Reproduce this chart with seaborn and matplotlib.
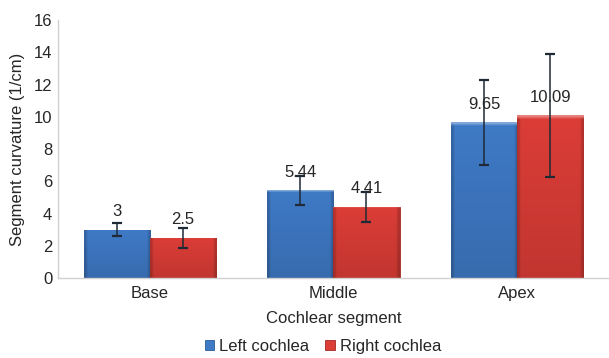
import matplotlib
matplotlib.use("Agg")
import matplotlib.pyplot as plt
import numpy as np
import pandas as pd
import seaborn as sns
from matplotlib.colors import to_rgb

SEGMENTS = ["Base", "Middle", "Apex"]
SIDES = ["Left cochlea", "Right cochlea"]
LEFT_MEAN = [3.0, 5.44, 9.65]
RIGHT_MEAN = [2.5, 4.41, 10.09]
LEFT_ERR = [0.40, 0.92, 2.66]
RIGHT_ERR = [0.62, 0.95, 3.80]
LABELS_LEFT = ["3", "5.44", "9.65"]
LABELS_RIGHT = ["2.5", "4.41", "10.09"]

COLORS = {"Left cochlea": "#3f7ac6", "Right cochlea": "#dc3d37"}
EDGES = {"Left cochlea": "#2c5a98", "Right cochlea": "#a42a25"}
FS = 12


def shaded_fill(color: str) -> np.ndarray:
    # bevelled look: lighter top rim, darker sides, slight fade downwards
    base = np.array(to_rgb(color))
    rows, cols = 60, 24
    img = np.empty((rows, cols, 3))
    for r in range(rows):
        fade = 1.0 - 0.12 * r / (rows - 1)
        for c in range(cols):
            f = fade
            if c in (0, cols - 1):
                f *= 0.82
            img[r, c] = np.clip(base * f, 0, 1)
    img[0] = np.clip(base + (1 - base) * 0.35, 0, 1)
    return img


def main() -> None:
    sns.set_style("white")
    plt.rcParams["font.family"] = ["Liberation Sans", "DejaVu Sans"]

    data = pd.DataFrame(
        {
            "segment": SEGMENTS * 2,
            "side": [SIDES[0]] * 3 + [SIDES[1]] * 3,
            "value": LEFT_MEAN + RIGHT_MEAN,
            "err": LEFT_ERR + RIGHT_ERR,
            "label": LABELS_LEFT + LABELS_RIGHT,
        }
    )

    fig = plt.figure(figsize=(6.09, 3.58), dpi=100)
    ax = fig.add_axes([0.095, 0.223, 0.905, 0.721])
    sns.barplot(
        data=data,
        x="segment",
        y="value",
        hue="side",
        hue_order=SIDES,
        order=SEGMENTS,
        palette=COLORS,
        saturation=1,
        width=0.72,
        errorbar=None,
        legend=False,
        ax=ax,
    )

    for side, container in zip(SIDES, ax.containers):
        sub = data[data["side"] == side].set_index("segment").loc[SEGMENTS]
        xs = [bar.get_x() + bar.get_width() / 2 for bar in container]
        fill = shaded_fill(COLORS[side])
        for bar in container:
            bar.set_edgecolor(EDGES[side])
            bar.set_linewidth(0.6)
            x0, w, h = bar.get_x(), bar.get_width(), bar.get_height()
            im = ax.imshow(
                fill,
                extent=(x0, x0 + w, 0, h),
                aspect="auto",
                interpolation="bilinear",
                zorder=bar.get_zorder() + 0.1,
            )
            im.set_clip_path(bar)
        ax.errorbar(
            xs,
            sub["value"],
            yerr=sub["err"],
            fmt="none",
            ecolor="#1f2a36",
            elinewidth=1.1,
            capsize=3.5,
            capthick=1.6,
            zorder=5,
        )
        for x, v, lab in zip(xs, sub["value"], sub["label"]):
            ax.annotate(
                lab,
                (x, v),
                xytext=(0, 13),
                textcoords="offset points",
                ha="center",
                va="center",
                fontsize=FS,
                zorder=6,
            )

    ax.set_ylim(0, 16)
    ax.set_yticks(range(0, 17, 2))
    ax.set_xlim(-0.5, 2.5)
    ax.tick_params(axis="both", length=0, labelsize=FS)
    ax.tick_params(axis="y", pad=4)
    ax.tick_params(axis="x", pad=6)
    ax.set_xlabel("Cochlear segment", fontsize=FS, labelpad=7)
    ax.set_ylabel("Segment curvature (1/cm)", fontsize=FS, labelpad=6)
    for side in ["top", "right"]:
        ax.spines[side].set_visible(False)
    for side in ["left", "bottom"]:
        ax.spines[side].set_color("#d0d0d0")
        ax.spines[side].set_linewidth(1.0)

    handles = [
        plt.Rectangle((0, 0), 1, 1, facecolor=COLORS[s], edgecolor=EDGES[s], linewidth=0.6)
        for s in SIDES
    ]
    fig.legend(
        handles,
        SIDES,
        loc="center",
        bbox_to_anchor=(0.53, 0.032),
        ncol=2,
        frameon=False,
        fontsize=FS,
        handlelength=0.55,
        handleheight=0.55,
        handletextpad=0.3,
        columnspacing=1.0,
    )

    fig.savefig("out.png", dpi=100)
    plt.close(fig)


if __name__ == "__main__":
    main()
